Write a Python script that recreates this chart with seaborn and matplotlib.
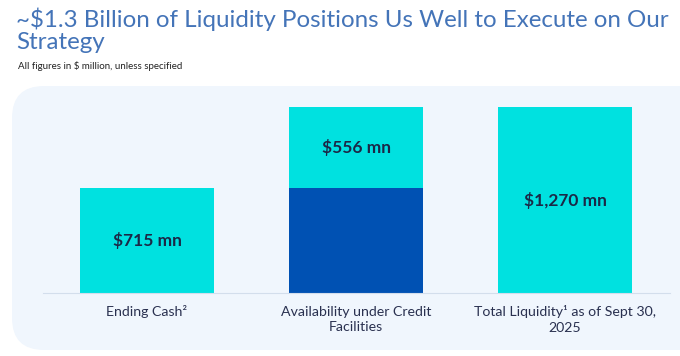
import matplotlib
matplotlib.use("Agg")
import matplotlib.pyplot as plt
from matplotlib.patches import FancyBboxPatch
import seaborn as sns
import pandas as pd

# chart data ($ mn)
categories = ["Ending Cash²", "Availability under Credit\nFacilities",
              "Total Liquidity¹ as of Sept 30,\n2025"]
base_values = [0, 715, 0]          # dark blue base segment
top_values = [715, 556, 1270]      # cyan segment (labelled)
bar_labels = ["$715 mn", "$556 mn", "$1,270 mn"]

cyan = "#00E1E0"
navy = "#0051B3"
text_dark = "#1B2847"

sns.set_theme(style="white")
plt.rcParams["font.family"] = ["Lato", "DejaVu Sans"]

df = pd.DataFrame({
    "category": categories,
    "base": base_values,
    "top": top_values,
})
df["total"] = df["base"] + df["top"]

fig = plt.figure(figsize=(6.8, 3.56), dpi=100)
fig.patch.set_facecolor("white")

# light panel behind the chart (inches)
panel = FancyBboxPatch((0.12, 0.06), 7.0, 2.64,
                       boxstyle="round,pad=0,rounding_size=0.32",
                       transform=fig.dpi_scale_trans, facecolor="#F0F6FD",
                       edgecolor="none", zorder=-5)
fig.patches.append(panel)

ax = fig.add_axes([42.5 / 680, 63 / 356, 627 / 680, 193 / 356])
ax.set_facecolor("none")
ax.set_zorder(2)

# full height in cyan, then base segment in navy on top
sns.barplot(data=df, x="category", y="total", hue="category",
            palette=[cyan] * 3, width=0.64, legend=False, ax=ax,
            saturation=1, linewidth=0)
sns.barplot(data=df, x="category", y="base", hue="category",
            palette=[navy] * 3, width=0.64, legend=False, ax=ax,
            saturation=1, linewidth=0)

ax.set_xlim(-0.5, 2.5)
ax.set_ylim(0, 1318)
ax.set_xlabel("")
ax.set_ylabel("")
ax.set_yticks([])
for s in ["top", "right", "left"]:
    ax.spines[s].set_visible(False)
ax.spines["bottom"].set_color("#D3DEEC")
ax.spines["bottom"].set_linewidth(0.8)
ax.tick_params(axis="x", length=0, pad=9, labelsize=10.2, labelcolor="#2A3150")
for t in ax.get_xticklabels():
    t.set_linespacing(1.35)

for i, (b, t, lab) in enumerate(zip(base_values, top_values, bar_labels)):
    ax.text(i, b + t / 2, lab, ha="center", va="center", fontsize=12.5,
            fontweight="bold", color=text_dark)

fig.text(16 / 680, 1 - 30 / 356,
         "~$1.3 Billion of Liquidity Positions Us Well to Execute on Our\nStrategy",
         ha="left", va="center", fontsize=17.4, color="#4474B8",
         fontweight="normal", linespacing=1.05)
fig.text(18 / 680, 1 - 66 / 356, "All figures in $ million, unless specified",
         ha="left", va="center", fontsize=7.0, color="#222222")

fig.savefig("out.png", dpi=100)
